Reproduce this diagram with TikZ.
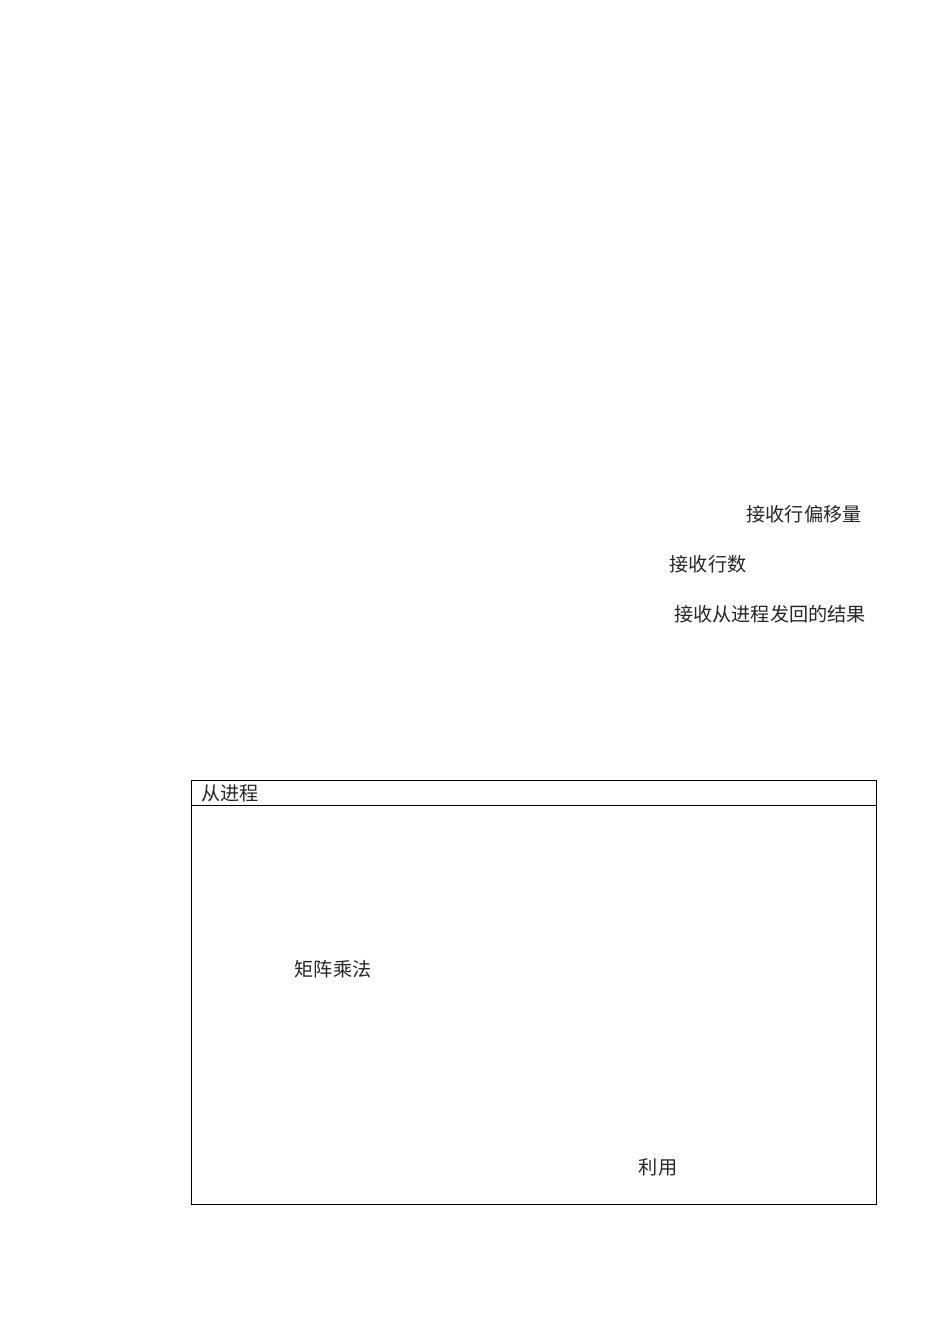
\documentclass[tikz,border=0pt]{standalone}
\usepackage{fontspec}
\newfontfamily\cjk{Noto Sans CJK SC}
\usepackage{tikz}
\usetikzlibrary{positioning, calc}
\tikzstyle{label}=[font=\cjk\fontsize{10.9}{12}\selectfont,inner sep=0pt,text=black!85]
\tikzstyle{frame}=[draw,line width=0.5pt]

\begin{document}
\begin{tikzpicture}[x=0.02cm,y=-0.02cm]
\useasboundingbox[fill=white] (0,0) rectangle (950,1343);
% labels of the master
\node [label] (offset) at (804,514) {接收行偏移量};
\node [label] (rows) at (708,564) {接收行数};
\node [label] (result) at (770,614) {接收从进程发回的结果};
% slave process
\coordinate (tl) at (191,780);
\coordinate (br) at (876,1204);
\draw [frame] (tl) rectangle (br);
\draw [frame] (191,805) -- (876,805);
\node [label] (slave) at (230,793) {从进程};
\node [label] (mult) at (333,969) {矩阵乘法};
\node [label] (use) at (658,1167) {利用};
\end{tikzpicture}
\end{document}
